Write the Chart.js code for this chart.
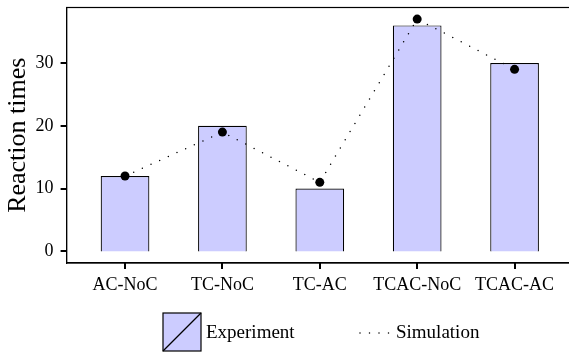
<!DOCTYPE html>
<html lang="en">
<head>
    <meta charset="UTF-8">
    <title>Reaction times</title>
    <script src="https://cdn.jsdelivr.net/npm/chart.js@4.4.1/dist/chart.umd.min.js"></script>
    <style>
        html, body { margin: 0; padding: 0; background: #fff; overflow: hidden; }
        #wrap { width: 580px; height: 352px; }
    </style>
</head>
<body>
    <div id="wrap">
        <canvas id="rtChart" width="580" height="352"></canvas>
    </div>

    <script>
        // data
        const categories = ['AC-NoC', 'TC-NoC', 'TC-AC', 'TCAC-NoC', 'TCAC-AC'];
        const experiment = [12, 20, 10, 36, 30];
        const simulation = [12, 19, 11, 37, 29];
        const yTicks = [0, 10, 20, 30];

        const FONT = '"Liberation Serif", "Times New Roman", serif';
        const BAR_FILL = '#ccccff';
        const TICK_LEN = 6;

        Chart.defaults.font.family = FONT;
        Chart.defaults.color = '#000';

        // frame round the plot area, outward tick marks, hand drawn legend
        const framePlugin = {
            id: 'frame',
            afterDraw(chart) {
                const { ctx, chartArea: a, scales } = chart;
                ctx.save();
                ctx.strokeStyle = '#000';
                ctx.lineWidth = 1.2;
                ctx.strokeRect(a.left, a.top, a.right - a.left, a.bottom - a.top);

                // tick marks
                ctx.lineWidth = 2;
                ctx.beginPath();
                scales.x.ticks.forEach(t => {
                    const px = Math.round(scales.x.getPixelForValue(t.value));
                    ctx.moveTo(px, a.bottom);
                    ctx.lineTo(px, a.bottom + TICK_LEN);
                });
                scales.y.ticks.forEach(t => {
                    const py = Math.round(scales.y.getPixelForValue(t.value));
                    ctx.moveTo(a.left, py);
                    ctx.lineTo(a.left - TICK_LEN, py);
                });
                ctx.stroke();
                ctx.lineWidth = 1.2;

                // legend: experiment patch
                ctx.fillStyle = BAR_FILL;
                ctx.fillRect(163, 313, 38, 38);
                ctx.strokeRect(163, 313, 38, 38);
                ctx.beginPath();
                ctx.moveTo(163, 351);
                ctx.lineTo(201, 313);
                ctx.stroke();

                ctx.fillStyle = '#000';
                ctx.font = '19px ' + FONT;
                ctx.textBaseline = 'alphabetic';
                ctx.fillText('Experiment', 206, 338);

                // legend: simulation dotted line
                ctx.lineWidth = 1.5;
                ctx.lineCap = 'round';
                ctx.setLineDash([0, 9.5]);
                ctx.beginPath();
                ctx.moveTo(360, 333);
                ctx.lineTo(391, 333);
                ctx.stroke();
                ctx.setLineDash([]);
                ctx.fillText('Simulation', 396, 338);
                ctx.restore();
            }
        };

        const axisGrid = {
            display: false,
            offset: false,
            drawOnChartArea: false,
            drawTicks: true,
            tickLength: TICK_LEN
        };

        new Chart(document.getElementById('rtChart'), {
            type: 'bar',
            data: {
                datasets: [
                    {
                        type: 'line',
                        label: 'Simulation',
                        data: simulation.map((v, i) => ({ x: i, y: v })),
                        borderColor: '#000',
                        borderWidth: 1.5,
                        borderDash: [0, 9.5],
                        borderCapStyle: 'round',
                        pointRadius: 4.5,
                        pointBackgroundColor: '#000',
                        pointBorderWidth: 0,
                        fill: false,
                        tension: 0,
                        order: 0
                    },
                    {
                        type: 'bar',
                        label: 'Experiment',
                        data: experiment.map((v, i) => ({ x: i, y: v })),
                        backgroundColor: BAR_FILL,
                        borderColor: '#000',
                        borderWidth: 1.2,
                        barPercentage: 0.5,
                        categoryPercentage: 1.0,
                        order: 1
                    }
                ]
            },
            options: {
                responsive: false,
                animation: false,
                devicePixelRatio: 1,
                layout: { padding: { top: 7.5, right: 7, bottom: 44, left: 0 } },
                plugins: {
                    legend: { display: false },
                    tooltip: { enabled: false }
                },
                scales: {
                    x: {
                        type: 'linear',
                        offset: false,
                        min: -0.6,
                        max: 4.6,
                        afterBuildTicks: axis => { axis.ticks = categories.map((c, i) => ({ value: i })); },
                        afterFit: axis => {
                            axis.height = 45;
                            axis.paddingLeft = 0;
                            axis.paddingRight = 0;
                        },
                        ticks: {
                            callback: v => categories[v],
                            autoSkip: false,
                            maxRotation: 0,
                            padding: 5,
                            font: { size: 18 },
                            color: '#000'
                        },
                        grid: axisGrid,
                        border: { display: true, color: '#000', width: 1.2 }
                    },
                    y: {
                        min: -1.85,
                        max: 38.85,
                        afterBuildTicks: axis => { axis.ticks = yTicks.map(v => ({ value: v })); },
                        afterFit: axis => {
                            axis.width = 66.6;
                            axis.paddingTop = 0;
                            axis.paddingBottom = 0;
                        },
                        ticks: { padding: 7, font: { size: 18 }, color: '#000' },
                        grid: axisGrid,
                        border: { display: true, color: '#000', width: 1.2 },
                        title: {
                            display: true,
                            text: 'Reaction times',
                            font: { size: 26 },
                            color: '#000',
                            padding: { top: 3, bottom: 0 }
                        }
                    }
                }
            },
            plugins: [framePlugin]
        });
    </script>
</body>
</html>
